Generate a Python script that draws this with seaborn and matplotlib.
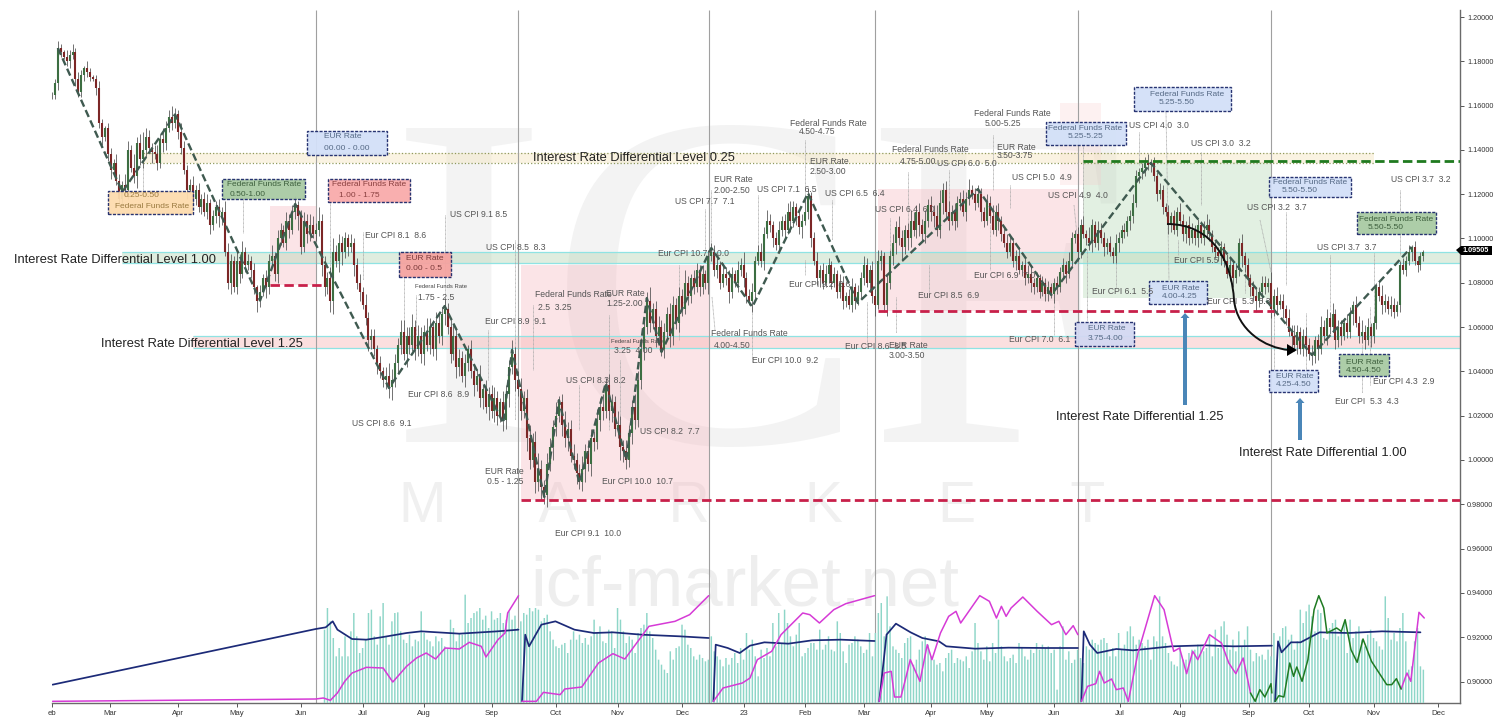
import numpy as np
import matplotlib
matplotlib.use("Agg")
import matplotlib.pyplot as plt
from matplotlib.lines import Line2D
from matplotlib.path import Path
from matplotlib.patches import Rectangle, Polygon, PathPatch
import seaborn as sns

# ---------- price data (units of 0.001) ----------
close_a = [1165,1170,1186,1184,1182,1180,1183,1184,1172,1166,1174,1177,1175,1173,1172,1168,1152,1146,1150,1138,1131,1134,1126,1118,1124]
close_b = [1122,1140,1132,1128,1143,1136,1140,1146,1141,1139,1138,1134,1145,1143,1150,1155,1152,1156]
close_c = [1148,1141,1131,1122,1124,1118,1122,1114,1118,1112,1116,1106,1110,1114,1110,1112,1094,1080,1090,1078,1090,1084,1094,1088,1090,1086,1078,1072,1076]
close_d = [1082,1078,1090,1092,1084,1100,1104,1098,1108,1104,1112,1115]
close_e = [1110,1096,1108,1102,1106,1102,1104,1108,1088,1078,1082,1072,1094,1090,1098,1094,1100,1096,1098,1088,1080,1076,1070,1064,1054,1056,1050,1044,1040,1036,1038,1033]
close_f = [1036,1044,1052,1058,1048,1056,1052,1060,1050,1056,1048,1058,1052,1060,1050,1062,1056,1066,1068]
close_g = [1060,1048,1056,1042,1046,1038,1044,1050,1040,1034,1038,1028,1032,1024,1030,1022,1028,1020,1026,1018]
close_h = [1030,1042,1048]
close_i = [1036,1032,1022,1028,1010,1000,1008,990,996,988,984]
close_j = [998,1006,1015,1020,1026]
close_k = [1016,1010,1014,1002,1000,994,990]
close_l = [996,1004,998,1010,1008,1018,1024,1022,1034]
close_m = [1022,1026,1014,1016,1006,1004,1000]
close_n = [1012,1024,1018,1036,1050,1060,1072]
close_o = [1062,1068,1056,1060,1050]
close_p = [1058,1066,1056,1070,1062,1074,1068,1080,1074,1082,1078,1086,1078,1084,1080,1092,1094]
close_q = [1086,1088,1080,1084,1082,1076,1084,1080,1086,1088,1082,1074,1072,1076]
close_r = [1090,1094,1090,1102,1108,1106,1100,1097,1104,1108,1104,1112,1108,1114,1110,1105,1108,1112,1119]
close_s = [1100,1090,1082,1086,1080,1084,1088,1080,1084,1076,1080,1072,1074,1070,1078,1072,1076]
close_t = [1082,1088,1080,1086,1074,1070,1090,1092,1070,1080,1092,1098,1105,1100,1096,1104,1100,1108,1104,1112,1106,1102,1108,1115,1112,1110,1104,1116,1122,1112,1108,1112,1108,1116,1118,1112,1118,1122,1120,1116,1120]
close_u = [1112,1108,1116,1110,1104,1112,1108,1102,1098,1094,1098,1090,1092,1086,1088,1082,1084,1080,1078,1082,1076,1080,1075,1078,1075]
close_v = [1080,1078,1085,1088,1084,1090,1100,1102,1094,1106,1102,1100,1098,1106,1098,1104,1100,1096,1098,1094,1092,1098,1100,1104,1103,1108,1110,1116,1128,1130,1132,1134,1133,1134]
close_w = [1128,1120,1122,1114,1112,1106,1110,1104,1112,1108,1102,1106,1100,1104,1100,1106,1100,1104,1106,1102,1096,1094,1092,1096,1090,1084,1088,1082,1086,1098,1092,1088,1082,1078,1074,1072,1076,1080,1078,1080,1068,1074,1070,1072,1068,1064,1058,1056,1052,1058,1050,1056,1052,1048,1047]
close_x = [1054,1050,1060,1056,1064,1060,1066,1054,1060,1056,1062,1058,1066,1070,1062,1056,1058,1054,1060,1056,1062,1078,1074,1070,1072,1068,1070,1067,1070,1088,1086,1090,1094,1096]
close_y = [1090,1088,1092,1094]
closes = (close_a+close_b+close_c+close_d+close_e+close_f+close_g+close_h+close_i+close_j+close_k+close_l+close_m
          +close_n+close_o+close_p+close_q+close_r+close_s+close_t+close_u+close_v+close_w+close_x+close_y)

wick_up = [
 1,2,3,2,1,3,2,4,2,3,2,1,3,2,1,2,3,2,1,2,
 3,2,4,3,2,5,4,2,6,3,4,8,4,3,2,3,4,2,5,3,
 3,5,3,2,4,3,2,3,4,2,3,2,3,4,2,3,3,4,2,5,
 4,3,2,4,3,5,2,3,2,3,1,3,2,4,3,5,2,4,3,2,
 4,3,3,4,2,3,4,3,5,4,3,6,3,4,3,5,6,3,4,3,
 3,2,4,2,3,4,2,5,3,3,3,2,3,2,4,6,5,4,3,5,
 5,4,4,6,3,5,4,3,6,4,3,5,4,3,5,3,4,5,3,4,
 3,4,2,4,3,3,5,2,4,3,4,5,3,2,5,4,3,6,3,4,
 5,3,4,6,4,5,7,4,3,5,4,3,6,3,4,6,3,4,5,3,
 4,6,3,5,4,3,5,4,6,3,5,4,3,6,4,3,5,4,3,6,
 4,5,3,4,6,3,4,5,3,4,3,5,4,3,4,3,6,3,2,4,
 3,2,4,2,3,4,3,3,2,5,3,4,3,2,4,3,6,3,3,4,
 2,3,4,3,5,3,2,3,4,2,3,4,5,3,2,3,3,6,4,2,
 3,4,2,3,4,3,2,3,2,4,3,2,3,4,2,3,3,4,3,2,
 4,3,5,3,2,4,3,4,3,5,4,2,3,5,4,3,4,3,5,3,
 4,3,5,6,3,4,5,3,4,3,3,4,3,5,2,3,4,3,2,4,
 3,5,3,4,2,3,4,3,2,3,4,2,3,4,3,2,3,2,3,2,
 3,2,2,3,2,3,2,4,3,2,3,3,4,2,5,3,2,4,3,3,
 2,3,2,4,3,2,3,2,3,4,3,2,2,3,4,2,3,2,3,2,
 2,3,2,3,2,4,3,2,4,3,2,3,2,4,5,3,2,3,2,3,
 2,3,4,2,3,2,4,2,3,2,3,4,2,3,3,2,5,3,4,3,
 3,2,4,3,5,3,2,3,4,3,4,2,3,5,3,4,3,5,2,3,
 3,2,4,3,2,4,3,5,3,4,2,3,2,3,5,3,2,4,3,2,
 2,3,2,3,1,3,2,2,1]
wick_dn = [
 2,2,3,2,1,2,3,2,3,2,2,3,2,2,1,3,2,4,2,3,
 4,3,2,4,3,3,4,2,3,5,3,4,3,2,5,2,3,2,4,3,
 2,3,2,3,3,2,4,2,3,3,2,3,2,3,4,2,3,5,4,2,
 3,5,2,3,4,2,3,2,4,3,5,3,2,5,3,2,3,4,3,2,
 3,4,2,3,6,3,2,4,3,2,3,3,5,4,3,5,6,3,5,6,
 3,4,2,5,3,4,2,3,5,4,3,5,3,3,4,5,6,3,5,4,
 3,6,4,3,5,3,4,5,3,4,3,5,3,4,5,3,4,3,5,4,
 3,5,4,3,5,3,4,5,3,6,3,5,4,3,5,4,6,3,5,3,
 4,3,6,4,3,5,4,6,4,5,3,6,4,3,5,4,6,3,4,5,
 3,4,6,3,5,4,3,5,4,3,4,5,3,4,6,5,4,3,5,4,
 3,4,5,3,4,3,5,4,3,4,3,5,4,3,4,3,2,4,3,3,
 2,4,3,3,5,2,3,4,3,2,3,5,3,2,4,3,4,3,2,5,
 3,2,3,4,2,3,4,2,3,3,4,2,5,3,4,3,5,2,3,4,
 2,3,4,3,2,4,3,2,3,3,4,3,2,3,4,2,3,3,2,4,
 3,5,2,4,3,5,3,4,5,3,6,3,5,4,3,4,5,3,4,3,
 4,5,3,4,5,3,4,2,4,3,3,2,4,3,2,3,2,4,3,2,
 3,2,3,4,3,2,3,2,3,4,2,3,3,2,4,3,2,3,2,3,
 3,2,4,3,2,3,4,2,3,2,4,3,2,3,3,4,2,3,2,4,
 3,2,3,3,4,2,3,2,4,3,2,3,3,4,2,3,2,3,2,3,
 2,4,3,2,3,2,3,4,3,2,3,4,2,3,4,3,2,3,2,4,
 3,2,3,4,2,3,5,3,3,4,2,5,3,4,3,2,4,3,3,2,
 4,3,2,5,3,4,2,3,5,3,4,3,5,2,3,4,3,2,4,3,
 4,2,3,3,5,2,3,3,4,2,5,3,3,2,4,3,2,3,3,2,
 3,2,3,2,4,2,3,2,2]

# zigzag pivots
zig_bar = [2,24,42,71,83,115,134,154,157,168,173,180,189,196,203,208,225,239,258,275,316,341,375,430,464]
zig_val = [1.186,1.121,1.156,1.072,1.1156,1.0325,1.0695,1.0167,1.0497,0.9833,1.027,0.9896,1.0348,1.000,1.0731,1.0488,1.0957,1.0691,1.1205,1.0709,1.1223,1.0745,1.1341,1.0474,1.0962]

# ---------- lower panel ----------
vol_starts = [93,160,225,281,351,417]
vol_1 = [220,285,245,195,140,165,140,200,140,215,270,200,150,165,190,270,280,200,175,260,300,200,175,245,270,272,215,190,180,205,170,190,185,275,210,190,185,170,200,185,195,170,165,250,225,185,210,205,325,240,255,270,275,285,250,262,225,275,250,255,270,240,250,275,250,262,225]
vol_2 = [245,270,265,285,275,285,280,245,255,265,215,190,170,165,175,180,150,190,215,190,205,180,195,175,200,250,210,230,185,180,220,215,165,285,250,215,180,200,190,150,210,225,235,270,215,195,160,130,115,100,90,155,130,165,170,235,220,175,165,140,130,145,135,125,130]
vol_3 = [200,155,140,130,110,135,115,135,150,120,165,130,210,160,190,140,80,160,135,165,140,240,170,270,180,280,240,200,170,205,240,140,150,165,180,180,160,220,160,175,200,160,155,245,210,155,120,175,180,200,190,170,150,160,210,140]
vol_4 = [210,270,300,200,320,230,170,160,150,135,180,195,200,115,130,160,185,200,175,140,130,115,120,95,135,150,160,120,135,130,125,140,105,155,240,180,155,130,170,125,180,150,250,170,140,125,135,145,120,180,165,140,130,160,150,180,160,175,165,170,150,160,40,170,230,130,155,120,130,160]
vol_5 = [135,120,170,160,190,180,175,190,195,180,140,165,140,210,160,175,215,230,200,175,190,180,170,190,130,200,185,320,200,180,150,125,115,110,170,130,130,150,160,160,175,170,155,165,200,140,220,165,230,245,205,160,190,155,215,170,190,230,160,125,150,140,145,130,160,140]
vol_6 = [210,130,200,225,230,190,205,160,185,280,240,275,295,260,215,280,270,195,190,225,240,250,200,215,240,150,250,195,215,230,190,170,205,220,195,185,170,160,320,255,190,210,185,225,270,185,100,110,185,225,110,100]
volumes = [vol_1,vol_2,vol_3,vol_4,vol_5,vol_6]

navy_x = [
 [0.2,90,93.4,95.8,97.4,102.4,107.3,113,121,126,139,152,159.2],
 [160.4,161.5,162.8,167,171.8,178.3,184.9,191.4,201.2,214.3,224.1],
 [225.7,226.5,230.6,234.7,238.2,243.1,251.3,259.4,269.2,280.7],
 [282.3,284.8,288,293,297,302.7,305.2,315,326.4,339.5,350.1],
 [351.3,352.1,354.2,356.7,363.2,368.9,382,393.4,403.2,416.3],
 [417.4,418.4,419.6,422.8,426.1,432.6,442.5,453.9,467]]
navy_y = [
 [55,222,227,245,220,192,190,198,210,215,208,215,220],
 [5,205,170,235,245,220,210,212,205,200,195],
 [5,175,165,150,172,182,178,188,190,186],
 [5,205,238,212,195,185,170,163,166,165,165],
 [5,215,175,150,162,158,170,173,170,172],
 [5,185,152,182,182,212,210,215,212]]
mag_x = [
 [0.2,90,92.6,95,97.4,99.9,102.4,107.3,113,116.3,121,124.4,127.7,130.9,134.2,139,142.4,146.5,148.1,152.2,154.6,155.5,159.2],
 [160.4,165.3,167.7,173.4,175,180.8,186.5,191.4,195.5,201.2,203.7,212.6,217.6,224.1],
 [225.7,229,235.6,238.2,240.7,245.6,248.8,256.2,258.6,261.9,266.8,270.9,275.8,280.7],
 [282.3,284,286.4,287.5,289.7,291.3,292.9,296.2,298.7,300.3,303.2,306,308.5,310.1,316.6,319.9,322.3,324,325.6,327.3,331.3,336.2,341.1,343.6,346,348.5,350.1],
 [351.3,353.4,356.2,357.5,359.1,361.6,363.2,365.6,367.3,370.6,376.3,379.5,382.8,384.8,387.2,389.3,391,395,399.1,401.6,404,406.5,409],
 [460.4,462.4,463.7,466.5,468.3]]
mag_y = [
 [5,12,15,8,30,65,90,107,105,63,110,135,150,132,165,162,182,170,138,190,210,270,322],
 [5,5,32,25,42,48,120,148,132,200,230,245,265,322],
 [5,45,60,75,130,155,205,270,265,240,280,298,310,322],
 [5,90,95,18,18,73,130,65,175,130,210,260,275,240,322,305,255,290,260,285,318,275,235,245,205,232,205],
 [5,50,58,95,60,72,40,45,5,150,322,280,155,165,88,155,130,205,180,120,88,135,30],
 [42,90,65,272,255]]
green_x = [
 [409,410.6,412.2,413.9,416,416.3],
 [417.4,418.7,420.4,422.4,423.7,424.8,426.6,428.6,430.7,432.3,434,435.1,438.4,440,441.3,443.3,445.4,447.4,450.3,452.9,455.5,457.2,458.8,460.4]]
green_y = [
 [30,5,40,18,58,30],
 [5,22,18,120,80,108,65,130,280,322,285,210,225,215,250,160,122,192,125,90,55,55,73,42]]

# ---------- axis labels ----------
month_pos = [0,19.8,43,63,85,106,127,150,172,193,215,236,257,277,300,319,342,364.5,385,408.5,429,451,473]
month_lab = ["eb","Mar","Apr","May","Jun","Jul","Aug","Sep","Oct","Nov","Dec","23","Feb","Mar","Apr","May","Jun","Jul","Aug","Sep","Oct","Nov","Dec"]
price_ticks = [0.90,0.92,0.94,0.96,0.98,1.00,1.02,1.04,1.06,1.08,1.10,1.12,1.14,1.16,1.18,1.20]
session_bars = [90.1,159,224.2,280.9,350.1,416]

# bands: x0,x1,price low,price high
band_025 = [31,451,1.1342,1.1387]
band_100 = [24,480.5,1.0889,1.0940]
band_125 = [48,480.5,1.0506,1.0560]
pink_zones = [[74.4,90.4,1.079,1.1147],[160,224.2,0.982,1.088],[282,350,1.0673,1.1223]]
green_zone = [351.9,416.3,1.0731,1.1345]
faint_zone = [344,358,1.1242,1.1612]
red_lines = [[74.5,93.2,1.079],[160,480.5,0.982],[282,417,1.0673]]
green_line = [351.9,480.5,1.135]
last_price = "1.09505"

# callouts: x0,y0,x1,y1 fill text colour, lines
boxes = [
 (108,191,193,214,"#fddcae","#9a7a40",[(124,196,"0.25-0.50"),(115,207,"Federal Funds Rate")]),
 (222,179,305,199,"#a9cba4","#3d5f3d",[(227,185,"Federal Funds Rate"),(230,194,"0.50-1.00")]),
 (307,131,387,155,"#d3e0f8","#566a86",[(324,137,"EUR Rate"),(324,148,"00.00 - 0.00")]),
 (328,179,410,202,"#f9abab","#8a4040",[(332,185,"Federal Funds Rate"),(339,196,"1.00 - 1.75")]),
 (399,252,451,277,"#f5a3a0","#7a3a3a",[(406,259,"EUR Rate"),(406,268,"0.00 - 0.5")]),
 (1046,122,1126,145,"#d3e0f8","#566a86",[(1048,128,"Federal Funds Rate"),(1068,136,"5.25-5.25")]),
 (1134,87,1231,111,"#d3e0f8","#566a86",[(1150,94,"Federal Funds Rate"),(1159,103,"5.25-5.50")]),
 (1149,281,1207,304,"#d3e0f8","#566a86",[(1162,288,"EUR Rate"),(1162,297,"4.00-4.25")]),
 (1075,322,1134,346,"#d3d8f2","#566a86",[(1088,329,"EUR Rate"),(1088,339,"3.75-4.00")]),
 (1269,177,1351,197,"#d3e0f8","#566a86",[(1273,182,"Federal Funds Rate"),(1282,191,"5.50-5.50")]),
 (1357,212,1436,234,"#a9cba4","#3d5f3d",[(1359,220,"Federal Funds Rate"),(1368,227,"5.50-5.50")]),
 (1339,354,1389,376,"#a9cba4","#3d5f3d",[(1346,362,"EUR Rate"),(1346,370,"4.50-4.50")]),
 (1269,370,1318,392,"#d3e0f8","#566a86",[(1276,377,"EUR Rate"),(1276,385,"4.25-4.50")]),
]
labels = [
 (365,235,"Eur CPI 8.1  8.6"),(450,215,"US CPI 9.1 8.5"),(418,297,"1.75 - 2.5"),(408,394,"Eur CPI 8.6  8.9"),
 (352,424,"US CPI 8.6  9.1"),(485,321,"Eur CPI 8.9  9.1"),(486,248,"US CPI 8.5  8.3"),(485,471,"EUR Rate"),(487,481,"0.5 - 1.25"),
 (535,295,"Federal Funds Rate"),(538,307,"2.5  3.25"),(606,294,"EUR Rate"),(606,303,"1.25-2.00"),(614,350,"3.25  4.00"),
 (566,380,"US CPI 8.3  8.2"),(640,431,"US CPI 8.2  7.7"),(602,481,"Eur CPI 10.0  10.7"),(555,533,"Eur CPI 9.1  10.0"),
 (658,254,"Eur CPI 10.7  10.0"),(675,201,"US CPI 7.7  7.1"),(714,179,"EUR Rate"),(714,190,"2.00-2.50"),
 (711,334,"Federal Funds Rate"),(714,345,"4.00-4.50"),(752,361,"Eur CPI 10.0  9.2"),(757,189,"US CPI 7.1  6.5"),
 (790,123,"Federal Funds Rate"),(799,132,"4.50-4.75"),(810,161,"EUR Rate"),(810,171,"2.50-3.00"),(825,193,"US CPI 6.5  6.4"),
 (789,284,"Eur CPI 9.2  8.6"),(845,347,"Eur CPI 8.6  8.5"),(889,345,"EUR Rate"),(889,356,"3.00-3.50"),(875,210,"US CPI 6.4  6.0"),
 (892,150,"Federal Funds Rate"),(900,161,"4.75-5.00"),(937,163,"US CPI 6.0  5.0"),(918,296,"Eur CPI 8.5  6.9"),(974,276,"Eur CPI 6.9  7.0"),
 (974,113,"Federal Funds Rate"),(985,123,"5.00-5.25"),(997,148,"EUR Rate"),(997,156,"3.50-3.75"),(1012,178,"US CPI 5.0  4.9"),
 (1048,196,"US CPI 4.9  4.0"),(1009,339,"Eur CPI 7.0  6.1"),(1129,125,"US CPI 4.0  3.0"),(1191,143,"US CPI 3.0  3.2"),
 (1092,292,"Eur CPI 6.1  5.5"),(1174,260,"Eur CPI 5.5"),(1207,302,"Eur CPI  5.3  5.3"),(1247,208,"US CPI 3.2  3.7"),
 (1317,248,"US CPI 3.7  3.7"),(1391,180,"US CPI 3.7  3.2"),(1373,382,"Eur CPI 4.3  2.9"),(1335,401,"Eur CPI  5.3  4.3"),
]
small_labels = [(415,287,"Federal Funds Rate"),(611,342,"Federal Funds Rate")]
big_labels = [(14,259,"Interest Rate Differential Level 1.00"),(101,343,"Interest Rate Differential Level 1.25"),
              (533,157,"Interest Rate Differential Level 0.25"),(1056,416,"Interest Rate Differential 1.25"),
              (1239,452,"Interest Rate Differential 1.00")]
leaders = [(143,167,190,143),(243,200,233,243),(330,202,295,330),(363,232,280,363),(404,278,340,404),(416,295,335,416),(445,215,310,445),
 (488,330,380,488),(515,240,420,515),(533,305,370,533),(609,315,430,609),(620,360,420,620),(579,385,430,579),(705,209,250,705),(711,190,255,711),
 (712,297,330,715),(752,307,362,752),(679,265,340,679),(758,195,250,758),(805,140,200,805),(805,260,275,805),(832,200,240,832),(867,302,345,867),
 (896,297,333,896),(890,218,250,890),(908,172,223,908),(929,265,292,929),(949,170,220,949),(990,225,270,990),(993,135,190,993),(1010,185,208,1010),
 (1054,300,335,1054),(1083,145,217,1083),(1074,205,245,1078),(1087,250,320,1087),(1116,257,287,1116),(1139,132,165,1139),(1166,112,280,1169),
 (1178,240,255,1178),(1201,152,205,1201),(1245,267,293,1245),(1260,220,272,1271),(1274,307,370,1274),(1286,212,285,1286),(1306,313,370,1306),
 (1330,255,310,1330),(1362,345,393,1362),(1374,253,340,1374),(1370,307,385,1370),(1400,190,255,1400)]

# ---------- figure ----------
sns.set_theme(style="white")
plt.rcParams["font.family"] = ["Liberation Sans", "DejaVu Sans"]
W, H = 1500, 725
fig = plt.figure(figsize=(15, 7.25), dpi=100, facecolor="white")
ax = fig.add_axes([52/W, 1-703/H, (1460-52)/W, 693/H])
ax2 = fig.add_axes([52/W, 1-703/H, (1460-52)/W, 110/H], sharex=ax)
ax2.patch.set_alpha(0)
ft = fig.transFigure

def fx(x): return x/W
def fy(y): return 1-y/H

# watermark
ax.text(fx(762), fy(442), "ICF", transform=ft, ha="center", va="baseline", fontsize=345, family="Liberation Serif",
        color="#f3f3f3", zorder=0.2)
ax.text(fx(752), fy(507), "M      A      R      K      E      T", transform=ft, ha="center", va="center", fontsize=41,
        color="#f0f0f0", zorder=0.2)
ax.text(fx(745), fy(588), "icf-market.net", transform=ft, ha="center", va="center", fontsize=51,
        color="#eeeeee", zorder=0.2)

# zones and bands
for z in pink_zones:
    ax.add_patch(Rectangle((z[0], z[2]), z[1]-z[0], z[3]-z[2], fc="#f5b8c0", alpha=0.38, lw=0, zorder=0.5))
ax.add_patch(Rectangle((green_zone[0], green_zone[2]), green_zone[1]-green_zone[0], green_zone[3]-green_zone[2],
                       fc="#b4d8b4", alpha=0.38, lw=0, zorder=0.5))
ax.add_patch(Rectangle((faint_zone[0], faint_zone[2]), faint_zone[1]-faint_zone[0], faint_zone[3]-faint_zone[2],
                       fc="#f8c8c8", alpha=0.25, lw=0, zorder=0.5))
for b, fc, lc, ls in [(band_025, "#f5e6c0", "#8f9a5c", ":"), (band_100, "#b8d8b8", "#8fe3e3", "-"), (band_125, "#f7b8b8", "#8fe3e3", "-")]:
    ax.add_patch(Rectangle((b[0], b[2]), b[1]-b[0], b[3]-b[2], fc=fc, alpha=0.45, lw=0, zorder=0.7))
    ax.hlines(b[2:4], b[0], b[1], colors=lc, lw=0.9, linestyles=ls, zorder=0.8)

ax.vlines(session_bars, 0, 1, transform=ax.get_xaxis_transform(), colors="#a0a0a0", lw=0.8, zorder=1)

# leaders
for x0, y0, y1, x1 in leaders:
    ax.add_line(Line2D([fx(x0), fx(x1)], [fy(y0), fy(y1)], transform=ft, color="#a8a8a8", lw=0.6, ls=(0, (1, 0.6)), zorder=1.2))

# candles
c = np.array(closes)/1000
bars = np.arange(len(c))
o = np.r_[c[0], c[:-1]]
hi = np.maximum(o, c)+np.array(wick_up)/1000
lo = np.minimum(o, c)-np.array(wick_dn)/1000
ax.vlines(bars, lo, hi, colors="#4c4c4c", lw=0.55, zorder=2)
col = np.where(c >= o, "#3c6e42", "#7c2626")
ax.vlines(bars, np.minimum(o, c), np.maximum(o, c), colors=col, lw=1.5, zorder=2.2)

# zigzag
sns.lineplot(x=zig_bar, y=zig_val, ax=ax, color="#3f5a50", lw=1.7, estimator=None, sort=False, zorder=3,
             linestyle=(0, (3.2, 1.6)), legend=False)

# dashed levels
for x0, x1, p in red_lines:
    ax.hlines(p, x0, x1, colors="#c8204a", lw=2.0, linestyles=(0, (3.4, 1.6)), zorder=3)
ax.hlines(green_line[2], green_line[0], green_line[1], colors="#1f7a1f", lw=2.0, linestyles=(0, (3.4, 1.6)), zorder=3)

# lower panel
vx, vy = [], []
for s, v in zip(vol_starts, volumes):
    vx += list(range(s, s+len(v)))
    vy += v
sns.barplot(x=vx, y=vy, native_scale=True, width=0.5, color="#8ed6c8", saturation=1, ax=ax2, zorder=1, linewidth=0)
for p in ax2.patches:
    p.set_snap(False)
for xs, ys in zip(navy_x, navy_y):
    sns.lineplot(x=xs, y=ys, ax=ax2, color="#1c2a78", lw=1.25, estimator=None, sort=False, zorder=3, legend=False)
for xs, ys in zip(mag_x, mag_y):
    sns.lineplot(x=xs, y=ys, ax=ax2, color="#d63ad6", lw=1.1, estimator=None, sort=False, zorder=4, legend=False)
for xs, ys in zip(green_x, green_y):
    sns.lineplot(x=xs, y=ys, ax=ax2, color="#1f7a22", lw=1.1, estimator=None, sort=False, zorder=4, legend=False)
ax2.set_ylim(0, 330)
ax2.axis("off")

# axes
ax.set_xlim(0, 480.5)
ax.set_ylim(1.2-686/2215, 1.2+7/2215)
ax.yaxis.tick_right()
ax.set_yticks(price_ticks)
ax.set_yticklabels([f"{p:.5f}" for p in price_ticks], fontsize=5.2, color="#333333")
ax.set_xticks(month_pos)
ax.set_xticklabels(month_lab, fontsize=5.6, color="#333333")
ax.tick_params(axis="both", which="major", length=3, width=0.7, color="#555555", pad=2, bottom=True, right=True, left=False, top=False)
for s in ["left", "top"]:
    ax.spines[s].set_visible(False)
for s in ["right", "bottom"]:
    ax.spines[s].set_color("#6a6a6a")
    ax.spines[s].set_linewidth(1.0)

# text
for x, y, s in labels:
    ax.text(fx(x), fy(y), s, transform=ft, fontsize=6.2, color="#555555", va="center", ha="left", zorder=6, clip_on=False)
for x, y, s in small_labels:
    ax.text(fx(x), fy(y), s, transform=ft, fontsize=4.2, color="#444444", va="center", ha="left", zorder=6, clip_on=False)
for x, y, s in big_labels:
    ax.text(fx(x), fy(y+1), s, transform=ft, fontsize=9.3, color="#222222", va="center", ha="left", zorder=6, clip_on=False)
for x0, y0, x1, y1, fc, tc, lines in boxes:
    ax.add_patch(Rectangle((fx(x0), fy(y1)), fx(x1-x0), (y1-y0)/H, transform=ft, fc=fc, ec="#1d2a6b", lw=1.0,
                           ls=(0, (2.2, 1.0)), alpha=0.95, zorder=5, clip_on=False))
    for x, y, s in lines:
        ax.text(fx(x), fy(y), s, transform=ft, fontsize=6.0, color=tc, va="center", ha="left", zorder=6, clip_on=False)

# arrows
for xa, y0, y1 in [(1185, 405, 313), (1300, 440, 398)]:
    ax.add_patch(Rectangle((fx(xa-2), fy(y0)), fx(4), (y0-y1-4)/H, transform=ft, fc="#4a86b8", ec="none", zorder=6, clip_on=False))
    ax.add_patch(Polygon([(fx(xa-4.5), fy(y1+5)), (fx(xa+4.5), fy(y1+5)), (fx(xa), fy(y1))], transform=ft, fc="#4a86b8", ec="none", zorder=6, clip_on=False))
curve_v = [(1167,224),(1215,224),(1232,265),(1234,300),(1237,330),(1265,348),(1289,350)]
curve_codes = [Path.MOVETO, Path.CURVE4, Path.CURVE4, Path.CURVE4, Path.CURVE4, Path.CURVE4, Path.CURVE4]
ax.add_patch(PathPatch(Path([(fx(a), fy(b)) for a, b in curve_v], curve_codes), transform=ft, fc="none", ec="#111111", lw=1.4, zorder=7, clip_on=False))
ax.add_patch(Polygon([(fx(1287), fy(344)), (fx(1287), fy(356)), (fx(1297), fy(350))], transform=ft, fc="#000000", ec="none", zorder=7, clip_on=False))

# last price tag
ax.add_patch(Polygon([(fx(1456), fy(250)), (fx(1461), fy(246)), (fx(1492), fy(246)), (fx(1492), fy(255)), (fx(1461), fy(255))],
                     transform=ft, fc="#000000", ec="none", zorder=7, clip_on=False))
ax.text(fx(1476), fy(250.5), last_price, transform=ft, fontsize=5.2, color="white", weight="bold", ha="center", va="center", zorder=8, clip_on=False)

fig.savefig("out.png", dpi=100, facecolor="white")
